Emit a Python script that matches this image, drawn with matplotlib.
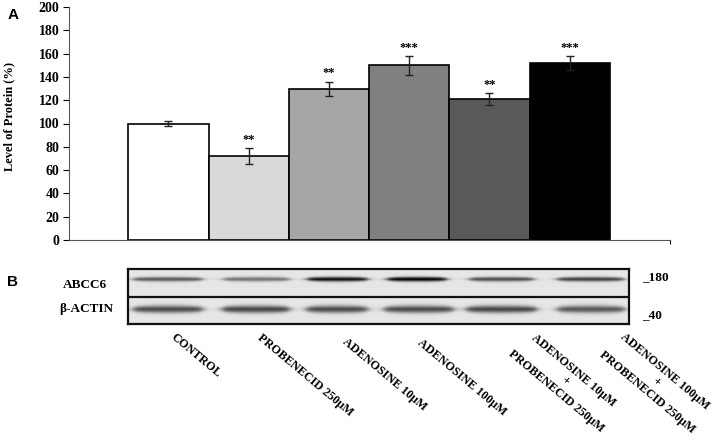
import numpy as np
import matplotlib.pyplot as plt

# values
groups = ["CONTROL", "PROBENECID 250μM", "ADENOSINE 10μM", "ADENOSINE 100μM",
          "ADENOSINE 10μM\n+\nPROBENECID 250μM",
          "ADENOSINE 100μM\n+\nPROBENECID 250μM"]
protein = [100, 72, 130, 150, 121, 152]
protein_err = [2, 7, 6, 8, 5, 6]
stars = ["", "**", "**", "***", "**", "***"]
bar_colors = ["#ffffff", "#d9d9d9", "#a6a6a6", "#808080", "#595959", "#000000"]
yticks = list(range(0, 201, 20))

# panel B: band darkness per lane (0 = none, 1 = black)
abcc6_dark = [0.55, 0.45, 0.85, 0.9, 0.6, 0.65]
actin_dark = [0.6, 0.62, 0.6, 0.6, 0.62, 0.55]

# blot layout, in figure pixels
abcc6_lanes = [(133, 203), (223, 290), (307, 368), (387, 447), (469, 534), (557, 624)]
actin_lanes = [(133, 203), (222, 290), (306, 368), (384, 454), (466, 537), (557, 625)]
label_xy = [(176, 331), (263, 332), (348, 336), (423, 337), (531, 327), (622, 328)]

W, H = 714, 441
serif = "Liberation Serif"

fig = plt.figure(figsize=(W / 100, H / 100), dpi=100)

def fx(px):
    return px / W

def fy(py):
    return 1 - py / H

# ---------- panel A ----------
ax = fig.add_axes([fx(69), fy(240), fx(670) - fx(69), fy(7) - fy(240)])
x = np.arange(len(protein))
ax.bar(x, protein, width=1.0, color=bar_colors, edgecolor="black", linewidth=1.2, zorder=2)
ax.errorbar(x, protein, yerr=protein_err, fmt="none", ecolor="#222222",
            elinewidth=1.0, capsize=3, capthick=1.0, zorder=3)
for i in range(len(protein)):
    if stars[i]:
        ax.text(x[i], protein[i] + protein_err[i] + 7, stars[i], ha="center", va="center",
                fontsize=9, fontweight="bold", family=serif)

ax.set_xlim(-1.24, 6.25)
ax.set_ylim(0, 200)
ax.set_yticks(yticks)
ax.set_yticklabels([str(t) for t in yticks], fontsize=10, fontweight="bold", family=serif)
ax.set_xticks([6.25])
ax.set_xticklabels([""])
ax.tick_params(axis="y", direction="out", length=4, width=0.8, pad=3)
ax.tick_params(axis="x", direction="out", length=3, width=0.8)
ax.spines["top"].set_visible(False)
ax.spines["right"].set_visible(False)
ax.spines["left"].set_color("#555555")
ax.spines["bottom"].set_color("#555555")
ax.set_ylabel("Level of Protein (%)", fontsize=9, fontweight="bold", family=serif,
              va="center")
ax.yaxis.set_label_coords(-0.1, 0.528)

fig.text(fx(13), fy(15), "A", fontsize=11, fontweight="bold", family="Liberation Sans",
         ha="center", va="center")
fig.text(fx(12), fy(282), "B", fontsize=11, fontweight="bold", family="Liberation Sans",
         ha="center", va="center")

# ---------- panel B: blot ----------
bx = fig.add_axes([fx(128), fy(324), fx(629) - fx(128), fy(269) - fy(324)])
gx, gy = np.meshgrid(np.arange(128, 630) + 0.5, np.arange(269, 325) + 0.5)
img = np.full(gx.shape, 0.9)

def band(lanes, dark, yc, sig):
    out = np.zeros(gx.shape)
    for (l, r), d in zip(lanes, dark):
        mid = (l + r) / 2
        half = (r - l) / 2
        # band slightly thicker in the middle, thinner at the ends
        s = sig * (0.6 + 0.4 * np.sqrt(np.clip(1 - ((gx - mid) / half) ** 2, 0, 1)))
        edge = 1 / (1 + np.exp(-(gx - l) / 2.5)) / (1 + np.exp((gx - r) / 2.5))
        out += d * edge * np.exp(-0.5 * ((gy - yc) / s) ** 2)
    return out

img -= band(abcc6_lanes, abcc6_dark, 280, 1.6)
img -= band(actin_lanes, actin_dark, 309.5, 2.6)
img = np.clip(img, 0, 1)
bx.imshow(img, cmap="gray", vmin=0, vmax=1, extent=(128, 630, 325, 269),
          aspect="auto", interpolation="bilinear")
bx.set_xlim(128, 629)
bx.set_ylim(324, 269)
bx.axhline(296.5, color="#111111", linewidth=1.6)
bx.set_xticks([])
bx.set_yticks([])
for s in bx.spines.values():
    s.set_linewidth(1.6)
    s.set_color("#111111")

fig.text(fx(85), fy(285), "ABCC6", fontsize=9.5, fontweight="bold", family=serif,
         ha="center", va="center")
fig.text(fx(86), fy(309), "β-ACTIN", fontsize=9.5, fontweight="bold", family=serif,
         ha="center", va="center")
fig.text(fx(642), fy(277), "_180", fontsize=9.5, fontweight="bold", family=serif,
         ha="left", va="center")
fig.text(fx(642), fy(315), "_40", fontsize=9.5, fontweight="bold", family=serif,
         ha="left", va="center")

for name, (px, py) in zip(groups, label_xy):
    fig.text(fx(px), fy(py), name, fontsize=8.7, fontweight="bold", family=serif,
             rotation=-40, rotation_mode="anchor", ha="left", va="top",
             multialignment="center", linespacing=1.15)

fig.savefig("out.png", dpi=100)
